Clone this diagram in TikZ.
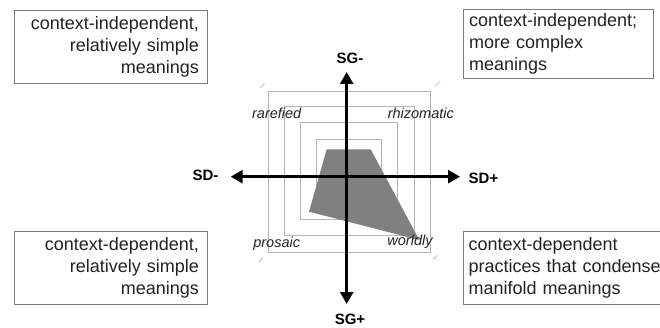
\documentclass[tikz,border=0pt]{standalone}
\usepackage{fontspec}
\setmainfont{Liberation Sans}
\usetikzlibrary{arrows.meta}
\definecolor{boxgray}{HTML}{7A7A7A}
\definecolor{sqgray}{HTML}{B4B4B4}
\definecolor{polygray}{HTML}{808080}
\definecolor{txt}{HTML}{222222}
\definecolor{markgray}{HTML}{C8C8C8}
\begin{document}
\begin{tikzpicture}[x=1pt,y=-1pt,
  quad/.style={draw=boxgray, line width=0.9pt, text=txt,
    font=\fontsize{18}{22}\selectfont, minimum width=193pt,
    minimum height=73pt, inner xsep=8pt, text width=177pt},
  zone/.style={font=\fontsize{14.5}{16}\selectfont\itshape, text=txt, inner sep=0pt},
  axlab/.style={font=\fontsize{15}{17}\selectfont\bfseries, inner sep=0pt},
  ring/.style={draw=sqgray, line width=0.9pt},
  axisline/.style={line width=2.6pt,
    {Triangle[width=13pt,length=12pt]}-{Triangle[width=13pt,length=12pt]}},
  cornermark/.style={draw=markgray, line width=1pt}
]
\useasboundingbox (0,0) rectangle (660,328);
\clip (0,0) rectangle (660,328);

% quadrant boxes
\node[quad, align=right] (tl) at (110.5,46.5)
  {context-independent,\\relatively simple\\meanings};
\node[quad, minimum width=190pt, minimum height=69pt, text width=178pt,
  inner xsep=6pt, align=left] (tr) at (558,43.5)
  {context-independent;\\more complex\\meanings};
\node[quad, align=right] (bl) at (110.5,267.5)
  {context-dependent,\\relatively simple\\meanings};
\node[quad, minimum width=207pt, text width=196pt, inner xsep=5.5pt,
  align=left] (br) at (566.5,267.5)
  {context-dependent\\practices that condense\\manifold meanings};

% concentric squares
\draw[ring] (268.3,91) rectangle (430,252.3);
\draw[ring] (284.3,106.7) rectangle (414,235.7);
\draw[ring] (300,122.3) rectangle (397.7,219.3);
\draw[ring] (316.7,139) rectangle (381.7,203.3);

% corner marks
\draw[cornermark] (260,87.5) -- (264.5,83.5);
\draw[cornermark] (435.5,86) -- (440,81.5);
\draw[cornermark] (259,262) -- (263,257.5);
\draw[cornermark] (433,259) -- (437.5,255.5);

% profile polygon
\fill[polygray] (326.7,149.3) -- (370.7,149.3) -- (419.3,240) -- (309,211.7) -- cycle;

% axes
\coordinate (sgm) at (346.7,72);
\coordinate (sgp) at (346.7,304);
\coordinate (sdm) at (230.7,176.7);
\coordinate (sdp) at (460,176.7);
\draw[axisline] (sgm) -- (sgp);
\draw[axisline] (sdm) -- (sdp);

% axis labels
\node[axlab] (lsdm) at (205.5,175.5) {SD-};
\node[axlab] (lsdp) at (483.5,178) {SD+};
\node[axlab] (lsgm) at (350,58.5) {SG-};
\node[axlab] (lsgp) at (350,319.8) {SG+};

% zone labels
\node[zone] (rar) at (276.7,113.3) {rarefied};
\node[zone] (rhi) at (420.8,113.3) {rhizomatic};
\node[zone] (pro) at (276.7,244) {prosaic};
\node[zone] (wor) at (410,241.7) {worldly};
\end{tikzpicture}
\end{document}
